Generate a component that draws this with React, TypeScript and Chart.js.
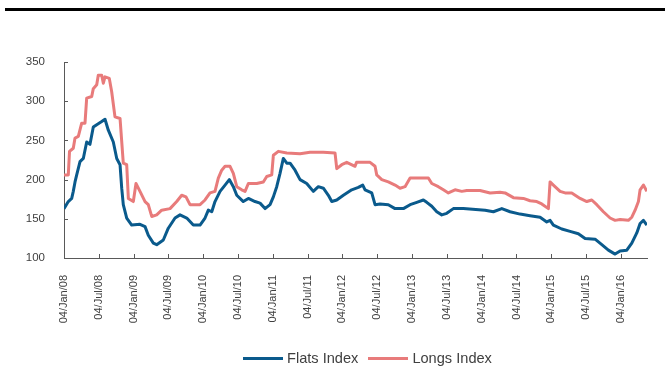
import React, { useEffect, useRef } from "react";
import { Chart, registerables } from "chart.js";

Chart.register(...registerables);

// x = months since 04/Jan/08
const tickMonths = [0, 6, 12, 18, 24, 30, 36, 42, 48, 54, 60, 66, 72, 78, 84, 90, 96];
const tickLabels = [
  "04/Jan/08", "04/Jul/08", "04/Jan/09", "04/Jul/09", "04/Jan/10", "04/Jul/10",
  "04/Jan/11", "04/Jul/11", "04/Jan/12", "04/Jul/12", "04/Jan/13", "04/Jul/13",
  "04/Jan/14", "04/Jul/14", "04/Jan/15", "04/Jul/15", "04/Jan/16",
];
const yTicks = [100, 150, 200, 250, 300, 350];
const seriesNames = ["Flats Index", "Longs Index"];

const flatsMonths = [
  0, 0.74, 1.33, 1.6, 1.9, 2.19, 2.76, 3.33, 3.91, 4.48, 5.05, 5.64, 6.5, 7.07, 7.64, 8.5,
  9.09, 9.66, 9.95, 10.22, 10.81, 11.67, 13.1, 13.97, 14.53, 15.4, 15.98, 17.12, 17.98,
  19.14, 20.0, 21.16, 22.29, 23.45, 24.31, 24.88, 25.47, 26.03, 26.9, 27.76, 28.5, 29.19,
  29.78, 30.91, 31.78, 32.93, 33.79, 34.66, 35.52, 36.09, 36.67, 37.24, 37.81, 38.4, 38.97,
  39.83, 40.69, 41.84, 42.98, 43.84, 44.71, 45.57, 46.16, 47.02, 48.16, 49.6, 50.74, 51.5,
  51.9, 53.05, 53.62, 54.48, 55.91, 57.07, 58.5, 59.66, 60.81, 61.95, 62.53, 63.4, 64.26,
  65.12, 65.98, 67.12, 68.84, 72.59, 74.02, 75.47, 76.9, 78.62, 80.34, 82.07, 83.22, 83.79,
  84.36, 85.81, 87.24, 88.67, 89.83, 91.55, 92.71, 93.84, 95.0, 95.86, 97.02, 97.88, 98.74,
  99.31, 99.88, 100.47,
];
const flatsValues = [
  163, 172, 176, 185, 197, 206, 223, 227, 248, 245, 267, 270, 274, 277, 263, 248,
  227, 219, 189, 168, 151, 142, 143, 140, 129, 119, 117, 123, 138,
  151, 155, 151, 142, 142, 151, 161, 159, 172, 185, 193, 200, 191,
  180, 172, 176, 172, 170, 163, 168, 178, 191, 208, 227, 221, 221,
  212, 200, 195, 185, 191, 189, 180, 172, 174, 180, 187, 190, 193,
  187, 183, 168, 169, 168, 163, 163, 168, 171, 174, 171, 166, 159,
  155, 157, 163, 163, 161, 159, 163, 159, 156, 154, 152, 146, 148,
  142, 137, 134, 131, 125, 124, 117, 110, 105, 109, 110, 119, 132,
  144, 148, 142,
];

const longsMonths = [
  0, 0.74, 0.95, 1.6, 1.9, 2.47, 3.05, 3.62, 3.91, 4.78, 5.05, 5.64, 5.91, 6.5, 6.78, 7.07,
  7.81, 8.22, 8.79, 9.66, 10.22, 10.81, 11.09, 11.95, 12.41, 13.1, 13.97, 14.53, 15.12,
  15.98, 16.84, 18.28, 19.43, 20.29, 21.03, 21.72, 23.45, 24.31, 25.17, 26.03, 26.6, 27.19,
  27.76, 28.62, 29.19, 29.78, 30.64, 31.21, 31.78, 33.22, 34.36, 34.95, 35.81, 36.09, 36.95,
  38.4, 40.69, 42.41, 44.71, 46.72, 47.02, 47.88, 48.74, 50.17, 50.43, 52.76, 53.62, 53.91,
  54.78, 55.91, 57.07, 57.93, 58.79, 59.66, 62.81, 63.4, 64.53, 65.4, 66.26, 67.41, 68.57,
  69.43, 71.72, 73.45, 75.17, 76.03, 77.47, 79.19, 80.34, 81.5, 82.36, 83.5, 83.79, 84.36,
  85.52, 86.38, 87.53, 88.97, 90.12, 90.98, 91.84, 92.98, 94.14, 95.0, 95.86, 97.29, 97.88,
  98.45, 99.02, 99.31, 99.88, 100.47,
];
const longsValues = [
  206, 206, 236, 240, 253, 255, 272, 272, 304, 306, 316, 321, 333, 333, 323, 331,
  329, 312, 280, 278, 221, 219, 176, 172, 195, 185, 172, 168, 153,
  155, 161, 163, 172, 180, 178, 168, 168, 174, 183, 185, 202, 212,
  217, 217, 208, 191, 187, 185, 195, 195, 197, 204, 206, 231, 236,
  234, 233, 235, 235, 234, 214, 219, 222, 217, 222, 222, 217, 206,
  200, 197, 193, 189, 191, 202, 202, 195, 191, 187, 183, 187, 185,
  186, 186, 183, 184, 183, 177, 176, 173, 172, 169, 163, 197, 193,
  185, 183, 183, 176, 172, 174, 168, 159, 151, 148, 149, 148, 152,
  161, 172, 187, 193, 185,
];

const FLATS_COLOR = "#0A5A8C";
const LONGS_COLOR = "#E87B7B";
const seriesColors = [FLATS_COLOR, LONGS_COLOR];
const AXIS_COLOR = "#595959";
const TEXT_COLOR = "#404040";
const FONT = "'Liberation Sans', Arial, sans-serif";

const innerTicks = {
  id: "innerTicks",
  afterDatasetsDraw(chart: any) {
    const ctx = chart.ctx;
    const x = chart.scales.x;
    const y = chart.scales.y;
    const area = chart.chartArea;
    ctx.save();
    ctx.strokeStyle = AXIS_COLOR;
    ctx.lineWidth = 1;
    ctx.beginPath();
    x.ticks.forEach((t: any) => {
      const px = Math.round(x.getPixelForValue(t.value)) + 0.5;
      ctx.moveTo(px, area.bottom);
      ctx.lineTo(px, area.bottom - 4);
    });
    y.ticks.forEach((t: any) => {
      const py = Math.round(y.getPixelForValue(t.value)) + 0.5;
      ctx.moveTo(area.left, py);
      ctx.lineTo(area.left + 4, py);
    });
    ctx.stroke();
    ctx.restore();
  },
};

export default function App() {
  const ref = useRef<HTMLCanvasElement | null>(null);

  useEffect(() => {
    if (!ref.current) return;
    const chart = new Chart(ref.current, {
      type: "line",
      data: {
        datasets: [
          {
            label: seriesNames[0],
            data: flatsMonths.map((m, i) => ({ x: m, y: flatsValues[i] })),
            borderColor: FLATS_COLOR,
            backgroundColor: FLATS_COLOR,
            borderWidth: 3,
            pointRadius: 0,
            tension: 0,
            borderJoinStyle: "round",
          },
          {
            label: seriesNames[1],
            data: longsMonths.map((m, i) => ({ x: m, y: longsValues[i] })),
            borderColor: LONGS_COLOR,
            backgroundColor: LONGS_COLOR,
            borderWidth: 3,
            pointRadius: 0,
            tension: 0,
            borderJoinStyle: "round",
          },
        ],
      },
      options: {
        animation: false,
        responsive: false,
        maintainAspectRatio: false,
        layout: { padding: { left: 24, top: 62, right: 18, bottom: 26 } },
        plugins: {
          tooltip: { enabled: false },
          legend: { display: false },
        },
        scales: {
          x: {
            type: "linear",
            min: 0,
            max: 100.5,
            afterBuildTicks: (s: any) => {
              s.ticks = tickMonths.map((v) => ({ value: v }));
            },
            afterFit: (s: any) => {
              s.height = 86;
            },
            grid: { display: false },
            border: { display: true, color: AXIS_COLOR, width: 1 },
            ticks: {
              autoSkip: false,
              maxRotation: 90,
              minRotation: 90,
              padding: 9,
              color: TEXT_COLOR,
              font: { family: FONT, size: 11 },
              callback: (v: any) => {
                const i = tickMonths.indexOf(Number(v));
                return i >= 0 ? tickLabels[i] : "";
              },
            },
          },
          y: {
            min: 100,
            max: 350,
            afterBuildTicks: (s: any) => {
              s.ticks = yTicks.map((v) => ({ value: v }));
            },
            afterFit: (s: any) => {
              s.width = 40;
            },
            grid: { display: false },
            border: { display: true, color: AXIS_COLOR, width: 1 },
            ticks: {
              padding: 11,
              color: TEXT_COLOR,
              font: { family: FONT, size: 11.5 },
            },
          },
        },
      },
      plugins: [innerTicks],
    } as any);
    return () => chart.destroy();
  }, []);

  return (
    <div style={{ position: "fixed", left: 0, top: 0, width: 665, height: 370, background: "#fff" }}>
      <div style={{ position: "absolute", left: 5, top: 8, width: 660, height: 3, background: "#000" }} />
      <canvas ref={ref} width={665} height={370} style={{ position: "absolute", left: 0, top: 0, width: 665, height: 370 }} />
      <div
        style={{
          position: "absolute",
          left: 243,
          top: 348,
          height: 20,
          display: "flex",
          alignItems: "center",
          fontFamily: FONT,
          fontSize: 14.6,
          color: TEXT_COLOR,
          whiteSpace: "nowrap",
        }}
      >
        {seriesNames.map((name, i) => (
          <div key={name} style={{ display: "flex", alignItems: "center", marginRight: 10 }}>
            <span style={{ display: "inline-block", width: 40, height: 3, background: seriesColors[i], marginRight: 4 }} />
            <span>{name}</span>
          </div>
        ))}
      </div>
    </div>
  );
}
